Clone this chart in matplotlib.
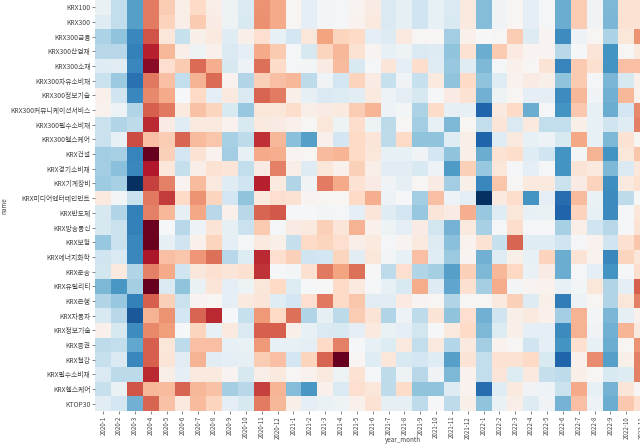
import numpy as np
import matplotlib
matplotlib.use("Agg")
import matplotlib.pyplot as plt

plt.rcParams['font.family'] = ['Noto Sans CJK KR', 'DejaVu Sans']

names = ['KRX100', 'KRX300', 'KRX300금융', 'KRX300산업재', 'KRX300소재', 'KRX300자유소비재',
         'KRX300정보기술', 'KRX300커뮤니케이션서비스', 'KRX300필수소비재', 'KRX300헬스케어',
         'KRX건설', 'KRX경기소비재', 'KRX기계장비', 'KRX미디어엔터테인먼트', 'KRX반도체',
         'KRX방송통신', 'KRX보험', 'KRX에너지화학', 'KRX운송', 'KRX유틸리티', 'KRX은행',
         'KRX자동차', 'KRX정보기술', 'KRX증권', 'KRX철강', 'KRX필수소비재', 'KRX헬스케어', 'KTOP30']

year_month = ['2020-1', '2020-2', '2020-3', '2020-4', '2020-5', '2020-6', '2020-7', '2020-8', '2020-9',
              '2020-10', '2020-11', '2020-12', '2021-1', '2021-2', '2021-3', '2021-4', '2021-5', '2021-6',
              '2021-7', '2021-8', '2021-9', '2021-10', '2021-11', '2021-12', '2022-1', '2022-2', '2022-3',
              '2022-4', '2022-5', '2022-6', '2022-7', '2022-8', '2022-9', '2022-10', '2022-11']

# values, one list per row
krx100 = [-.7, -2.5, -5.5, 5.2, 2.5, .7, 2, .7, -.5, -1.5, 4.5, 3.8, .2, -1, -.3, -.2, .3, .8, -1.5, -.9, -2, -.8, -1.5, 1, -4.3, -.4, .2, -1, -.2, -5, 2.5, -.4, -4.5, 1.5, 1.5]
krx300 = [-1.2, -2.5, -5.5, 5.2, 2.3, .7, 2.6, .8, -.5, -1.6, 4.6, 3.8, .2, -1, -.3, -.2, .4, 1, -1.5, -.9, -2, -.8, -1.6, 1, -4.3, -.4, .2, -1, -.2, -5, 2.5, -.4, -4.6, 1.5, 1.5]
k300_fin = [-3.2, -4, -6.5, 6.3, 1.2, -2.3, .6, 1, -1.2, .6, 1.7, -.8, -1.8, 1.2, 4, 2.2, 2, -1, -1.3, 1, .1, .1, -3.5, .5, 0, .1, 2.5, -1.3, .3, -6.3, -.6, .2, -3.2, 1.2, 4.5]
k300_ind = [-2.8, -2.8, -6.8, 7.8, 3.3, .7, -.5, .5, -1.5, -1, 3.8, 2.6, -.2, -1.7, 2.2, 3.3, 1.5, .3, -.8, -.5, -1.5, -1.3, -4, 1.5, -5, 2.6, .9, .3, .3, -2.8, -.1, 1.3, -6, .1, 1]
k300_mat = [-1.2, -1.1, -6.5, 9, 1.7, 2.6, 5.7, 3.6, -1.7, -.6, 5.5, 1.9, -.2, -.3, .8, 3.2, -1.6, -.2, 1.3, -1, 1.8, -1.2, -3.8, -1.2, -4.5, -.2, .5, .1, 1.4, -6.7, 2.6, 1.6, -6, 3, 3]
k300_dis = [-2.2, -3.7, -7.5, 5.3, 3, -2.5, 3.5, 5.7, .4, -3, 2.4, 3, 3.3, -2.6, -.4, -1.8, 2.3, .8, -2.3, -.4, -2.3, 1, -4, 2, -4, -1.2, .4, .8, .6, -4, 2.6, -.2, -4.6, -1.7, .6]
k300_it = [.5, -2, -6.5, 4.8, 3.8, -.1, 2, -1, 1, -1.5, 5.8, 5.2, .6, -.9, -1.5, -1.4, -1.1, 1, -.6, -1, -1.7, -.1, .8, 1.5, -4.8, -.5, .2, -1, -1, -6.3, 3.3, -.4, -4.8, 3.3, .5]
k300_com = [.4, -.6, -3, 6, 5.3, 1, 2.9, 2.2, -1.6, -3.8, 1.2, 1.2, 1.8, .7, .8, 1, 2.5, 3.4, -.6, -.3, -3.2, 1.9, -.9, -.9, -8, 1, 2, -5, -.2, -6, 2.7, -.8, -5, -1.8, 4.8]
k300_sta = [-2.2, -3, -2.6, 7.5, .8, -1.2, 1, 1, .4, -1.6, 1, .8, .5, .1, 1.2, -.5, 1.8, -.5, -2.7, .1, -3.5, -.8, -4.5, .2, -2.5, 1.3, -1.5, 1, -2.5, -2.5, .6, -.8, -2, -1.2, 5]
k300_hea = [-2.2, -.8, 6.5, 3, 2.5, 5.8, 3.2, 2.8, -3.3, -2.6, 7.3, 3.3, -4.2, -5.5, .5, -1.8, 2, 1.3, -2.6, 2, -4, -4, -1.2, .6, -8, -1.2, 1, -.8, -.6, -1.6, 3.9, -.8, -4.5, 1.5, .1]
k_con = [-3.5, -3.3, -6.7, 10, 2.4, -1.8, 1.5, .4, -3.5, -.8, 3.8, 3.6, .3, .2, 3.2, 3.4, 2, 1.2, -.8, -.8, -.4, -1.8, -4, .6, -5, 1.5, 1.8, -1.2, -2, -6, -.3, 3.5, -6, 1.2, 2.8]
k_cyc = [-3.5, -4.2, -6.5, 8, 1.2, -2.4, .7, 1.5, 1.3, -2.5, .8, 5, .7, -1.3, 1.2, .5, 2.4, .7, -1.1, -1.1, -1.6, -.6, -5.7, 2.4, -3.8, 1.2, -.2, -1, -.2, -6, 1.4, 1, -4.5, -1.5, 1.2]
k_mac = [-3.6, -3.3, -10, 6.8, 5, .3, 3.2, 1, -1.2, -2, 7.8, 1, -3, -.4, 5.2, 3.8, 1.5, .8, -.4, -.9, .1, .8, -3.5, .6, -6.5, 2.8, .1, 1, 1, -2.2, .8, 2.3, -6.2, 1, 1.6]
k_med = [1, -.3, -2.2, 5.3, 7, 2, 4.5, 2.2, -1.8, -4, 1, 1.7, 1.5, .3, .2, .2, 2, 3.6, -.6, -.1, -3.5, 3, -.6, -1, -10, 1, 1.8, -6, -1, -7.7, 3.2, -.7, -6.4, -2.6, 0]
k_sem = [-1.7, -3, -6.8, 5, 3.3, -.9, 3.9, -2.8, .5, -2.8, 5.8, 6.2, -.1, -.1, -.3, -.2, -1, 1.3, -1.2, -1.8, -3.8, 1.3, .8, 3.6, -3.8, -1.2, 1.2, -.8, -.7, -8, 2.3, -.8, -6.4, -.2, 1.2]
k_tel = [-1.7, -2.2, -6.8, 9.8, -.1, -2.8, -.6, 1.4, -.9, -2.2, 2.6, -.2, .8, 1, 2.4, 1.3, 3.5, .5, -.5, -1, .8, -1.9, -4.7, 1, -3.3, -.2, 1.8, -.2, -.2, -3.3, .7, -2, -2.8, -.2, 1.5]
k_ins = [-3.8, -2.2, -6.5, 9.9, -.9, -2, .5, 2.2, -1, -.2, 1, .6, -2.4, 2, 2.2, 1.7, .7, 1, -.2, .3, 1, -1.3, -4.2, .4, 1.5, -2.3, 5.8, -1.2, -1.2, -2, -.2, .4, -2, 1.6, 2.8]
k_ene = [-2, -1.5, -6.5, 8.2, 3, 2.8, 4.4, 5.5, -2.8, -1.4, 7.5, 1.7, 2.4, -2, -1.8, 2.2, -1.1, 1.2, -.3, -.8, 3, -1.2, -3.7, .3, -4.8, -1.2, .6, -.8, 2.3, -5, 1.4, .4, -6.5, 2.2, 1.2]
k_tra = [-1.9, 1, -3, 5, 3.8, -2, 1.1, 1.6, 1.3, 1.6, 7.2, -.1, -.3, 1.6, 5.3, 4, 5.5, 0, -2.6, 1.7, -3, -3.4, -5.5, 2.4, -4.5, 3.3, 2.1, -.7, .8, -5, -.2, -1, -6, -.1, 1.8]
k_uti = [-4.5, -5.8, -3.4, 10, -1.5, -4, -.7, 1.3, -1, -.5, 1.1, 2, -1.4, -.1, 0, 2, 1, -.2, -.8, -1.6, 3.7, -1.3, -5.3, 1.6, -3.4, 3.7, -.3, .3, .4, -.8, -.3, 1.2, -3, -1, 6]
k_ban = [-3, -3.8, -6.8, 6, 2.4, -2.2, .3, .2, -1, 1, 1.3, -1.2, -1.8, 1.7, 5.3, 2, 2.8, -1.1, -1.1, .9, .3, .2, -3, .1, .1, 1, 2.4, -1.3, .6, -7, -.6, .2, -3, 1.2, 5]
k_aut = [-1.6, -2.8, -8.5, 3.5, 4.5, -1.8, 5.8, 7.5, -.1, -2.3, 4.3, 2, 5.5, -3, -.9, -2.7, 2.5, 1.4, -3, -.6, -2.6, 1.4, -4, 1.7, -4.8, -2, .6, 1, .5, -3.5, 3.5, -.3, -4.6, -.9, .5]
k_it = [.5, -1.7, -6.3, 4.8, 4.2, -.1, 2.2, -.8, 1, -1.5, 6, 6, .6, -.8, -1.5, -1.6, -1, 1, -.7, -1, -1.9, -.1, 1, 2, -4.5, -1.4, .6, -1, -1, -6.4, 3.5, -.4, -4.8, 3.4, 1]
k_sec = [-2.6, -2.5, -5.2, 6, 1.2, -2.6, 3, 3, -.8, -.7, 4.3, -.8, -.8, -1, 2, 5, -.1, -.8, -1.4, 1, -2.5, 1, -2.9, 1, -3.5, .4, .1, -2, -1, -6, 1.6, -.8, -5, .2, 4.5]
k_ste = [-2.3, -1.5, -6.5, 6, 1.3, -1.1, 3.5, -1.1, -1, -.9, 2.5, 3, -1.8, 2.2, 5.8, 10, .2, -1.2, 1.2, -1.6, -1.8, -1.2, -5.5, 1.4, -2.5, 1.5, 1.5, 2, -1.6, -8, .5, 4.7, -5.5, .6, 5]
k_sta = [-1.5, -2.7, -2.7, 7.5, .7, -1, 1, 1, .3, -1.7, .7, 1, .1, .4, 1, -.5, 1.5, -.2, -2.6, -.5, -2.8, -.4, -4.5, .4, -2.5, 1.3, -1.4, 1, -2.4, -2.6, .6, .1, -1.6, -1.4, 5]
k_hea = [-2.3, -.7, 6.3, 3.3, 3.2, 5.8, 3.3, 2.9, -3.4, -2.8, 6.8, 3.4, -4.3, -5.8, .5, -1.5, 1.7, 1.2, -2.6, 1.9, -4, -4, -1.3, .4, -7.7, -1.2, 1, -.4, -.6, -2.2, 3.8, -.8, -4.7, 1.3, .1]
ktop30 = [-1.1, -1.8, -4.8, 5.8, 2.9, 1, 3.2, 2.2, -1, -1.7, 5.2, 3.3, .6, -1, -.7, -.5, .5, 1.5, -.9, -.9, -2.6, -.1, -2.6, .6, -4, -.7, .7, -1.3, -.4, -4.7, 3, -.6, -5, 2.7, 1.7]

rows = [krx100, krx300, k300_fin, k300_ind, k300_mat, k300_dis, k300_it, k300_com, k300_sta, k300_hea,
        k_con, k_cyc, k_mac, k_med, k_sem, k_tel, k_ins, k_ene, k_tra, k_uti, k_ban,
        k_aut, k_it, k_sec, k_ste, k_sta, k_hea, ktop30]

data = np.array(rows)

fig = plt.figure(figsize=(6.4, 4.47), dpi=100)
# the plot runs off the right edge of the picture, as in the original
ax = fig.add_axes([95.3 / 640, 36 / 447, 554.75 / 640, 411 / 447])
ax.pcolormesh(data, cmap='RdBu_r', vmin=-10, vmax=10)
ax.invert_yaxis()

for s in ax.spines.values():
    s.set_visible(False)

ax.set_xticks(np.arange(len(year_month)) + 0.5)
ax.set_xticklabels(year_month, rotation=90, fontsize=4.4, color='#444444')
ax.set_yticks(np.arange(len(names)) + 0.5)
ax.set_yticklabels(names, fontsize=4.9, color='#444444')
ax.tick_params(length=2, width=0.5, pad=1.5, color='#555555')

ax.set_xlabel('year_month', fontsize=4.5, color='#444444')
ax.xaxis.set_label_coords(0.5547, -0.062)
ax.set_ylabel('name', fontsize=4.5, color='#444444')
ax.yaxis.set_label_coords(-0.1575, 0.5)

fig.savefig('out.png', dpi=100)
